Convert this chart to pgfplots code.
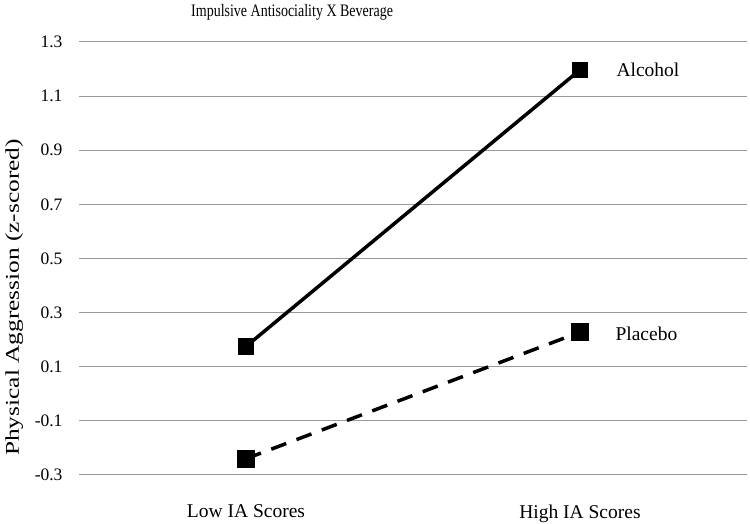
\documentclass[border=0pt]{standalone}
\usepackage{pgfplots}
\pgfplotsset{compat=1.18}
\usepackage{fontspec}
\setmainfont{Liberation Serif}
\begin{document}
\begin{tikzpicture}[x=1pt,y=1pt]
\useasboundingbox (0,0) rectangle (750,524);
\begin{axis}[
  at={(79pt,49pt)}, anchor=south west,
  scale only axis, width=668pt, height=433pt,
  xmin=-0.5, xmax=1.5, ymin=-0.3, ymax=1.3,
  xtick={0,1}, xticklabels={Low IA Scores,High IA Scores},
  ytick={-0.3,-0.1,0.1,0.3,0.5,0.7,0.9,1.1,1.3},
  yticklabels={-0.3,-0.1,0.1,0.3,0.5,0.7,0.9,1.1,1.3},
  axis line style={draw=none},
  major tick length=0pt,
  ymajorgrids, grid style={draw=gray!80, line width=1pt},
  yticklabel style={font=\fontsize{17.5}{20}\selectfont, xshift=-13pt},
  xticklabel style={font=\fontsize{19.5}{22}\selectfont, yshift=-26pt},
  ylabel={\scalebox{1.3}[1]{Physical Aggression (z-scored)}},
  ylabel style={font=\fontsize{19.5}{22}\selectfont, at={(axis description cs:-0.097,0.41)}, anchor=center},
  clip=false,
]
\addplot[black, line width=3.5pt, mark=square*, mark size=6.5pt, mark options={solid}] coordinates {(0,0.175) (1,1.197)};
\addplot[black, line width=3.5pt, dash pattern=on 16pt off 11pt, mark=square*, mark size=7pt, mark options={solid}] coordinates {(0,-0.24) (1,0.228)};
\node[anchor=west, font=\fontsize{19.5}{22}\selectfont] at (axis cs:1,1.197) [xshift=33pt] {Alcohol};
\node[anchor=west, font=\fontsize{19.5}{22}\selectfont] at (axis cs:1,0.228) [xshift=32pt, yshift=-2pt] {Placebo};
\node[font=\fontsize{14}{17}\selectfont] at (axis description cs:0.319,1.069) {\scalebox{1}[1.25]{Impulsive Antisociality X Beverage}};
\end{axis}
\end{tikzpicture}
\end{document}
